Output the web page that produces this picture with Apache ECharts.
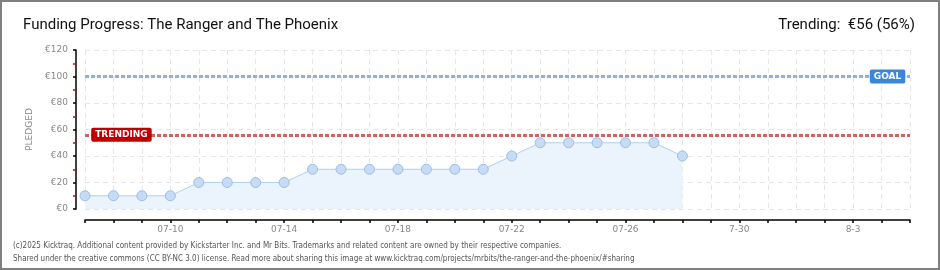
<!DOCTYPE html>
<html><head><meta charset="utf-8">
<script src="https://cdn.jsdelivr.net/npm/echarts@6/dist/echarts.min.js"></script>
<style>
html,body{margin:0;padding:0;background:#fff;}
#wrap{position:absolute;left:0;top:0;width:936px;height:266px;border:2px solid #808080;}
#c{position:absolute;left:-2px;top:-2px;width:940px;height:270px;}
</style></head>
<body><div id="wrap"><div id="c"></div></div>
<script>
const categories = ['07-07','07-08','07-09','07-10','07-11','07-12','07-13','07-14','07-15','07-16',
  '07-17','07-18','07-19','07-20','07-21','07-22','07-23','07-24','07-25','07-26',
  '07-27','07-28','07-29','07-30','07-31','08-01','08-02','08-03','08-04','08-05'];
const pledged = [10,10,10,10,20,20,20,20,30,30,30,30,30,30,30,40,50,50,50,50,50,40];
const tickLabels = {'07-10':'07-10','07-14':'07-14','07-18':'07-18','07-22':'07-22','07-26':'07-26','07-30':'7-30','08-03':'8-3'};
const yTicks = [0,20,40,60,80,100,120];
const goal = 100;
const trending = 56;
const titleText = 'Funding Progress: The Ranger and The Phoenix';
const trendText = 'Trending:  €56 (56%)';
const footer1 = '(c)2025 Kicktraq. Additional content provided by Kickstarter Inc. and Mr Bits. Trademarks and related content are owned by their respective companies.';
const footer2 = 'Shared under the creative commons (CC BY-NC 3.0) license. Read more about sharing this image at www.kicktraq.com/projects/mrbits/the-ranger-and-the-phoenix/#sharing';

const chart = echarts.init(document.getElementById('c'), null, {renderer:'canvas'});
const tagFont = {color:'#fff', fontFamily:'DejaVu Sans', fontWeight:'bold', fontSize:9, borderRadius:2, padding:[3,4,2,4]};
chart.setOption({
  animation:false,
  title:[
    {text:titleText, left:18, top:13, textStyle:{fontFamily:'Roboto', fontWeight:'normal', fontSize:15, color:'#111'}},
    {text:trendText, right:20, top:13, textStyle:{fontFamily:'Roboto', fontWeight:'normal', fontSize:15, color:'#111'}},
    {text:footer1, left:8, top:237, textStyle:{fontFamily:'DejaVu Sans Condensed', fontWeight:'normal', fontSize:8, color:'#555'}},
    {text:footer2, left:8, top:250, textStyle:{fontFamily:'DejaVu Sans Condensed', fontWeight:'normal', fontSize:8, color:'#555'}}
  ],
  grid:{left:85, right:30, top:50, bottom:61},
  xAxis:{
    type:'category', data:categories, boundaryGap:false, offset:11,
    axisLine:{onZero:false, lineStyle:{color:'#000', width:1.5}},
    axisTick:{show:true, interval:0, length:3, lineStyle:{color:'#000', width:1.5}},
    axisLabel:{interval:(i,v)=>tickLabels[v]!==undefined, formatter:v=>tickLabels[v]||'', color:'#888', fontFamily:'DejaVu Sans', fontSize:9, margin:5},
    splitLine:{show:true, interval:0, lineStyle:{color:'#e6e6e6', type:[5,4]}}
  },
  yAxis:{
    type:'value', min:yTicks[0], max:yTicks[yTicks.length-1], interval:20, offset:9,
    name:'PLEDGED', nameLocation:'middle', nameGap:38, nameRotate:90,
    nameTextStyle:{color:'#888', fontFamily:'DejaVu Sans', fontSize:9},
    axisLine:{show:true, lineStyle:{color:'#000', width:1.5}},
    axisTick:{show:true, length:3, lineStyle:{color:'#000', width:1.5}},
    minorTick:{show:true, splitNumber:2, length:3, lineStyle:{color:'#e00000', width:1.5}},
    axisLabel:{formatter:v=>'€'+v, color:'#888', fontFamily:'DejaVu Sans', fontSize:9, margin:8},
    splitLine:{show:true, lineStyle:{color:'#e6e6e6', type:[5,4]}}
  },
  series:[{
    type:'line', data:pledged, symbol:'circle', symbolSize:10,
    lineStyle:{color:'#b0d0f0', width:1},
    itemStyle:{color:'#c6dcf6', borderColor:'#9dbde2', borderWidth:1},
    areaStyle:{color:'#ebf3fc', opacity:1},
    markLine:{
      silent:true, symbol:'none', animation:false,
      label:{show:false},
      data:[
        {yAxis:goal, lineStyle:{color:'#8fb2dc', width:3, type:[4,2]}},
        {yAxis:trending, lineStyle:{color:'#d06464', width:3, type:[4,2]}}
      ]
    },
    markPoint:{
      silent:true, symbol:'rect', symbolSize:0, animation:false,
      data:[
        {coord:['08-04', goal], label:Object.assign({show:true, formatter:'GOAL', backgroundColor:'#3b86d8', offset:[6,0]}, tagFont)},
        {coord:['07-08', trending], label:Object.assign({show:true, formatter:'TRENDING', backgroundColor:'#c00000', offset:[8,0]}, tagFont)}
      ]
    }
  }]
});
</script></body></html>
